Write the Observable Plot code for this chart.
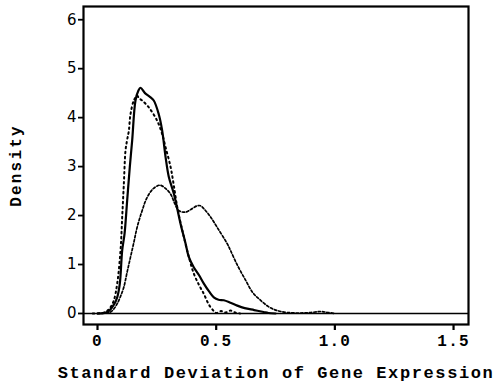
<!DOCTYPE html>
<html><head><meta charset="utf-8">
<script src="https://cdn.jsdelivr.net/npm/d3@7"></script>
<script src="https://cdn.jsdelivr.net/npm/@observablehq/plot@0.6"></script>
<style>
html,body{margin:0;padding:0;background:#fff;}
g[aria-label="y-axis tick label"] text{font-size:15px !important;font-family:"DejaVu Sans" !important;}
g[aria-label="x-axis tick label"] text{font-size:16px !important;font-family:"Liberation Mono" !important;font-weight:bold;letter-spacing:1.2px;}
</style>
</head><body>
<div id="chart"></div>
<script>
const solidX = [0.00,0.03,0.05,0.069,0.083,0.094,0.104,0.114,0.125,0.136,0.146,0.16,0.172,0.181,0.2,0.222,0.237,0.258,0.272,0.287,0.3,0.322,0.35,0.37,0.385,0.406,0.428,0.448,0.47,0.49,0.51,0.532,0.56,0.589,0.62,0.66,0.7,0.72,0.75];
const solidY = [0.00,0.01,0.06,0.18,0.33,0.61,1.29,1.63,2.31,2.99,3.53,4.35,4.55,4.61,4.5,4.42,4.35,4.07,3.75,3.19,2.8,2.44,1.83,1.45,1.15,0.94,0.78,0.61,0.45,0.33,0.28,0.27,0.22,0.16,0.11,0.07,0.03,0.01,0.0];

const dottedX = [-0.02,0.02,0.04,0.055,0.069,0.083,0.097,0.104,0.111,0.118,0.125,0.132,0.139,0.153,0.167,0.174,0.188,0.216,0.251,0.272,0.287,0.308,0.322,0.336,0.35,0.364,0.385,0.406,0.428,0.448,0.465,0.476,0.49,0.5,0.52,0.54,0.56,0.58,0.6];
const dottedY = [0,0.01,0.05,0.13,0.27,0.61,1.29,1.97,2.65,3.33,3.55,3.73,4.07,4.35,4.45,4.4,4.35,4.21,3.94,3.67,3.39,2.99,2.6,2.17,1.85,1.56,1.15,0.81,0.58,0.4,0.22,0.13,0.05,0.01,0.05,0.02,0.06,0.02,0.0];

const dashedX = [0.0,0.03,0.055,0.07,0.083,0.097,0.111,0.125,0.139,0.153,0.167,0.188,0.209,0.235,0.263,0.285,0.308,0.325,0.343,0.371,0.395,0.42,0.434,0.448,0.475,0.504,0.547,0.56,0.59,0.625,0.655,0.68,0.72,0.757,0.8,0.85,0.9,0.94,0.97,1.0];
const dashedY = [0,0.01,0.03,0.1,0.2,0.35,0.54,0.85,1.15,1.45,1.76,2.1,2.37,2.55,2.62,2.56,2.44,2.25,2.1,2.07,2.13,2.2,2.2,2.14,1.98,1.76,1.42,1.29,0.98,0.67,0.42,0.3,0.14,0.06,0.02,0.01,0.02,0.04,0.02,0.0];

const xTicks = [0, 0.5, 1.0, 1.5];
const yTicks = [0, 1, 2, 3, 4, 5, 6];
const xTitle = "Standard Deviation of Gene Expression";
const yTitle = "Density";

const toRows = (xs, ys) => xs.map((x, i) => ({x, y: ys[i]}));
const solid = toRows(solidX, solidY);
const dotted = toRows(dottedX, dottedY);
const dashed = toRows(dashedX, dashedY);

const chart = Plot.plot({
  width: 495,
  height: 381,
  marginLeft: 83,
  marginRight: 27,
  marginTop: 6,
  marginBottom: 57,
  x: {domain: [-0.059, 1.563]},
  y: {domain: [-0.225, 6.27]},
  marks: [
    Plot.ruleY([0], {stroke: "#000", strokeWidth: 1.5}),
    Plot.line(dashed, {x: "x", y: "y", stroke: "#000", strokeWidth: 1.7, strokeDasharray: "2.4,2", curve: "catmull-rom"}),
    Plot.line(dotted, {x: "x", y: "y", stroke: "#000", strokeWidth: 2, strokeDasharray: "1.6,3.4", curve: "catmull-rom"}),
    Plot.line(solid, {x: "x", y: "y", stroke: "#000", strokeWidth: 2.2, curve: "catmull-rom"}),
    Plot.frame({stroke: "#000", strokeWidth: 2.2}),
    Plot.axisY(yTicks, {tickSize: 5, tickPadding: 2, strokeWidth: 1.8, fill: "#000", label: null}),
    Plot.axisX(xTicks, {tickSize: 6, tickPadding: 4, strokeWidth: 2.2, fill: "#000", label: null,
      tickFormat: d => d === 0 ? "0" : d.toFixed(1)}),
    Plot.text([xTitle], {frameAnchor: "bottom", dy: 53, fill: "#000", textAnchor: "middle"}),
    Plot.text([yTitle], {frameAnchor: "left", dx: -68, rotate: -90, fill: "#000", textAnchor: "middle"})
  ]
});
chart.querySelectorAll("text").forEach(t => {
  const s = t.textContent;
  if (s === xTitle) { t.setAttribute("letter-spacing", "1.6"); t.setAttribute("font-size", 17); t.setAttribute("font-family", "Liberation Mono"); t.setAttribute("font-weight", "bold"); }
  if (s === yTitle) { t.setAttribute("letter-spacing", "2.2"); t.setAttribute("font-size", 16); t.setAttribute("font-family", "Liberation Mono"); t.setAttribute("font-weight", "bold"); }
});
document.getElementById("chart").appendChild(chart);
</script>
</body></html>
